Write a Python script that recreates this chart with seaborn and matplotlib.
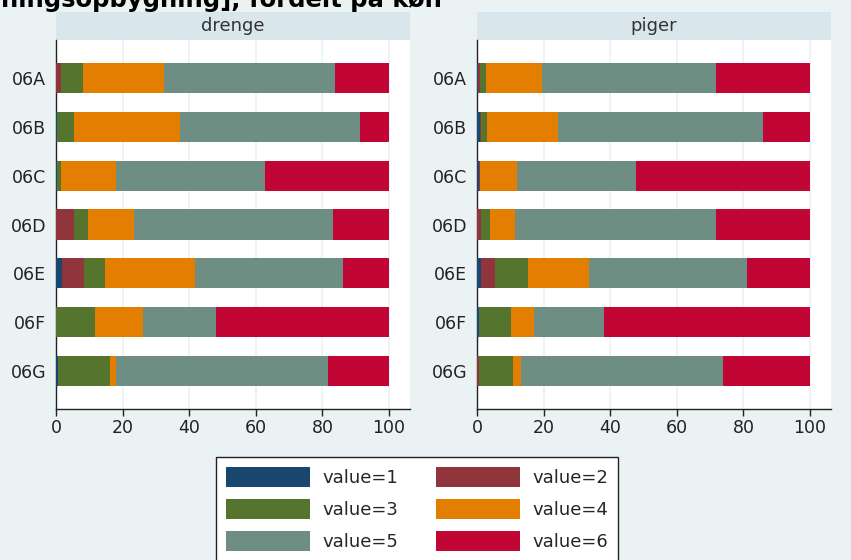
import matplotlib
matplotlib.use("Agg")
import matplotlib.pyplot as plt
from matplotlib.patches import Rectangle, Patch
import numpy as np
import pandas as pd
import seaborn as sns

# ---- data ----
classes = ["06A", "06B", "06C", "06D", "06E", "06F", "06G"]
value_labels = ["value=1", "value=2", "value=3", "value=4", "value=5", "value=6"]
panels = ["drenge", "piger"]

drenge_v1 = [0.0, 0.4, 0.3, 0.0, 1.7, 0.0, 0.5]
drenge_v2 = [1.4, 0.0, 0.0, 5.3, 6.7, 0.0, 0.0]
drenge_v3 = [6.6, 4.9, 1.1, 4.3, 6.4, 11.6, 15.8]
drenge_v4 = [24.5, 32.0, 16.5, 13.8, 26.9, 14.6, 1.6]
drenge_v5 = [51.3, 54.1, 45.0, 59.7, 44.5, 21.7, 63.9]
drenge_v6 = [16.2, 8.6, 37.1, 16.9, 13.8, 52.1, 18.2]

piger_v1 = [0.3, 0.8, 0.6, 0.0, 1.3, 0.5, 0.0]
piger_v2 = [0.7, 0.5, 0.4, 1.1, 4.0, 0.0, 0.5]
piger_v3 = [1.6, 1.6, 0.0, 2.7, 9.9, 9.6, 10.3]
piger_v4 = [17.0, 21.5, 11.1, 7.5, 18.5, 7.1, 2.4]
piger_v5 = [52.1, 61.5, 35.5, 60.4, 47.4, 20.9, 60.8]
piger_v6 = [28.3, 14.1, 52.4, 28.3, 18.9, 61.9, 26.0]

x_ticks = [0, 20, 40, 60, 80, 100]
title_text = "ningsopbygning], fordelt på køn"

colors = ["#1A476F", "#90353B", "#55752F", "#E37E00", "#6E8E84", "#C10534"]
bg = "#EAF2F3"
header_bg = "#D9E6EB"
grid_c = "#EAF2F3"

series = {
    "drenge": [drenge_v1, drenge_v2, drenge_v3, drenge_v4, drenge_v5, drenge_v6],
    "piger": [piger_v1, piger_v2, piger_v3, piger_v4, piger_v5, piger_v6],
}

sns.set_theme(style="white")
plt.rcParams["font.family"] = ["DejaVu Sans"]

fig = plt.figure(figsize=(8.51, 5.60), dpi=100, facecolor=bg)
W, H = 851.0, 560.0

ax_boxes = [(56, 40, 410, 409), (477, 40, 831, 409)]
for name, (x0, y0, x1, y1) in zip(panels, ax_boxes):
    ax = fig.add_axes([x0 / W, 1 - y1 / H, (x1 - x0) / W, (y1 - y0) / H])
    ax.set_facecolor("white")
    vals = np.array(series[name])
    cum = np.cumsum(vals, axis=0)
    # draw from the full stack down to the first segment
    for k in range(len(value_labels) - 1, -1, -1):
        df = pd.DataFrame({"klasse": classes, "pct": cum[k]})
        sns.barplot(data=df, x="pct", y="klasse", orient="h", color=colors[k],
                    width=0.62, linewidth=0, saturation=1, ax=ax, zorder=3)
    ax.set_xlim(0, 106.3)
    ax.set_ylim(6.78, -0.78)
    ax.set_xticks(x_ticks)
    ax.set_xticklabels([str(t) for t in x_ticks])
    ax.set_xlabel("")
    ax.set_ylabel("")
    for t in x_ticks[1:]:
        ax.axvline(t, color=grid_c, lw=1.2, zorder=1)
    for s in ["top", "right"]:
        ax.spines[s].set_visible(False)
    for s in ["left", "bottom"]:
        ax.spines[s].set_color("#222222")
        ax.spines[s].set_linewidth(1.0)
    ax.tick_params(axis="x", length=5, width=1, color="#222222", labelsize=12.5,
                   labelcolor="#222222", pad=2, bottom=True)
    ax.tick_params(axis="y", length=0, labelsize=12.5, labelcolor="#222222", pad=7)
    # panel header
    hh = 28.0 / (y1 - y0)
    ax.add_patch(Rectangle((0, 1), 1, hh, transform=ax.transAxes, facecolor=header_bg,
                           edgecolor="none", clip_on=False, zorder=0))
    ax.text(0.5, 1 + hh / 2, name, transform=ax.transAxes, ha="center", va="center",
            fontsize=13, color="#333333")

# clipped title at the top
fig.text(1 / W, 1 - 7 / H, title_text, ha="left", va="baseline", fontsize=17.5,
         fontweight="bold", color="black")

# legend filled row by row (value=1, value=2 on the first row)
order = [0, 2, 4, 1, 3, 5]
handles = [Patch(facecolor=colors[i], edgecolor="none") for i in order]
labels = [value_labels[i] for i in order]
leg = fig.legend(handles, labels, ncol=2, loc="upper left",
                 bbox_to_anchor=(216 / W, 1 - 457 / H), bbox_transform=fig.transFigure,
                 fontsize=13, handlelength=4.67, handleheight=1.33, labelspacing=0.66,
                 handletextpad=0.67, columnspacing=2.1, borderpad=0.55, borderaxespad=0,
                 frameon=True, fancybox=False, framealpha=1, edgecolor="#222222")
leg.get_frame().set_linewidth(1.0)
leg.get_frame().set_facecolor("white")

fig.savefig("out.png", dpi=100, facecolor=bg)
